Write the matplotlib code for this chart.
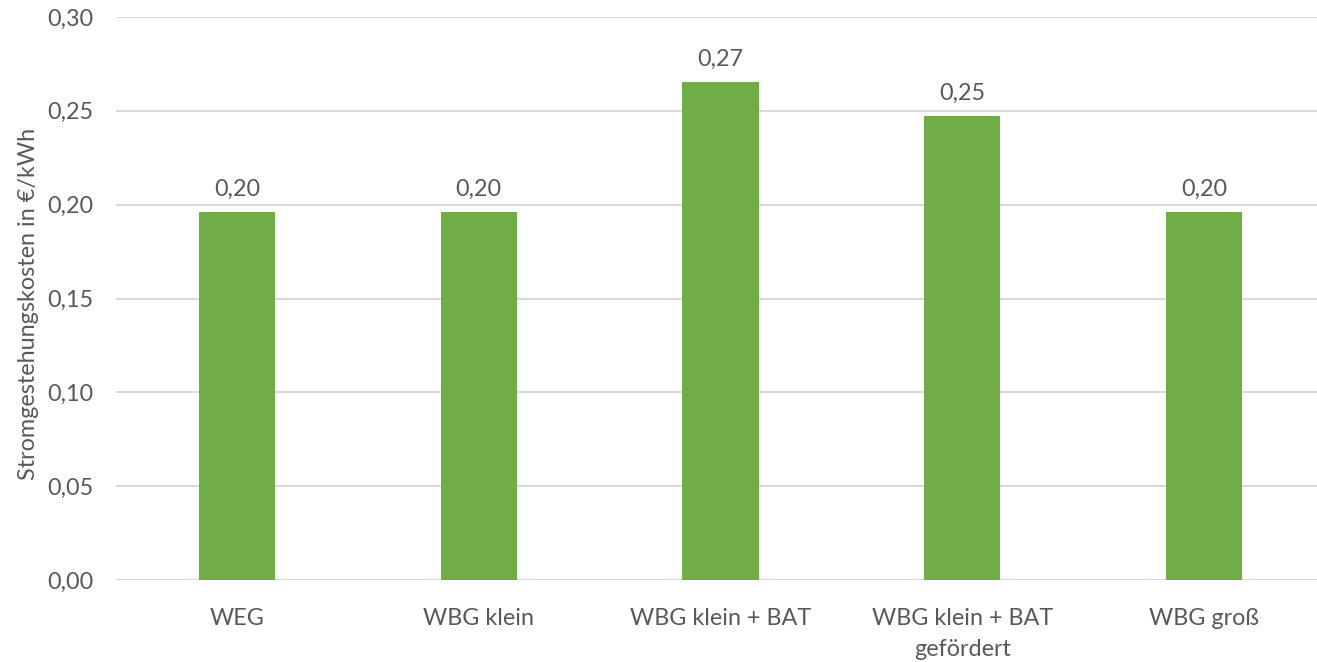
import matplotlib
matplotlib.use("Agg")
import matplotlib.pyplot as plt
from matplotlib.ticker import FuncFormatter

categories = ["WEG", "WBG klein", "WBG klein + BAT", "WBG klein + BAT\ngefördert", "WBG groß"]
values = [0.196, 0.196, 0.2652, 0.2475, 0.196]
yticks = [0.00, 0.05, 0.10, 0.15, 0.20, 0.25, 0.30]
ylabel = "Stromgestehungskosten in €/kWh"

plt.rcParams['font.family'] = ['Lato', 'DejaVu Sans']
TXT = "#595959"
FS = 16.8

W, H = 1317, 662
fig = plt.figure(figsize=(W / 100, H / 100), dpi=100)
left = 116 / W
right = 1325 / W
bottom = 1 - 580 / H
top = 1 - 17 / H
ax = fig.add_axes([left, bottom, right - left, top - bottom])

x = list(range(len(categories)))
bars = ax.bar(x, values, width=0.315, color="#70AD47", zorder=3)
ax.set_xlim(-0.5, len(categories) - 0.5)
ax.set_ylim(0, 0.30)
ax.set_yticks(yticks)
ax.yaxis.set_major_formatter(FuncFormatter(lambda v, p: f"{v:.2f}".replace(".", ",")))
ax.set_xticks(x)
ax.set_xticklabels(categories, linespacing=1.6)
ax.tick_params(axis='both', length=0, labelsize=FS, labelcolor=TXT)
ax.tick_params(axis='x', pad=20)
ax.tick_params(axis='y', pad=16)
ax.grid(axis='y', color="#D9D9D9", linewidth=1.5, zorder=0)
for s in ax.spines.values():
    s.set_visible(False)

for b, v in zip(bars, values):
    ax.annotate(f"{v:.2f}".replace(".", ","), (b.get_x() + b.get_width() / 2, v),
                xytext=(0, 12), textcoords="offset pixels",
                ha="center", va="bottom", fontsize=FS, color=TXT)

fig.text(29 / W, 1 - 304 / H, ylabel, rotation=90, ha="center", va="center",
         fontsize=FS, color=TXT)

fig.savefig("out.png", dpi=100)
